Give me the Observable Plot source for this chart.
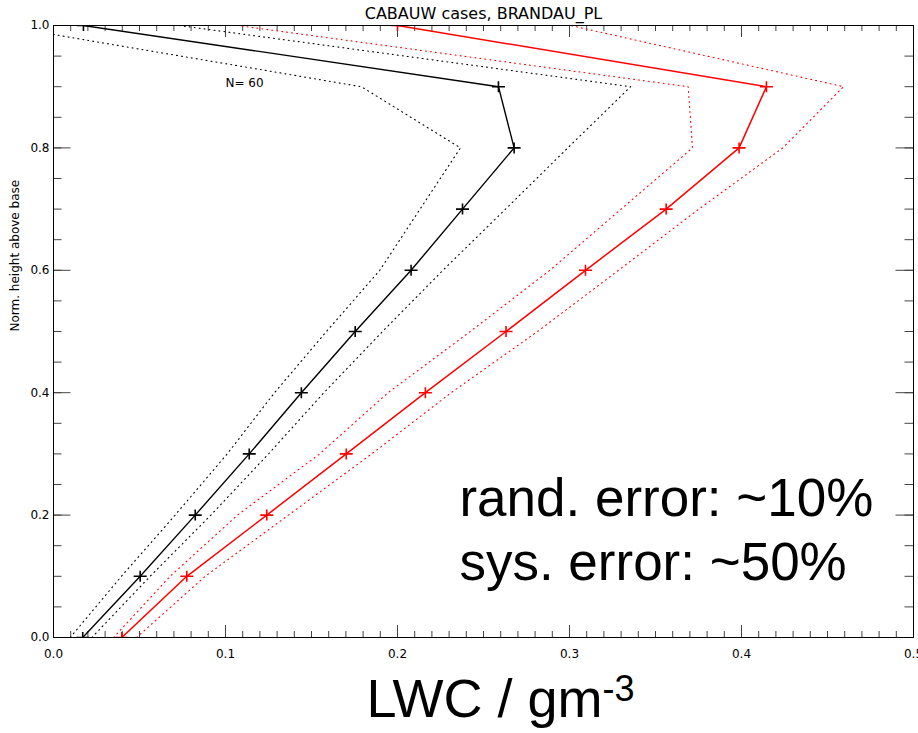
<!DOCTYPE html>
<html>
<head>
<meta charset="utf-8">
<script src="https://cdn.jsdelivr.net/npm/d3@7"></script>
<script src="https://cdn.jsdelivr.net/npm/@observablehq/plot@0.6"></script>
<style>
  html, body { margin: 0; padding: 0; background: #fff; }
  svg { display: block; }
</style>
</head>
<body>
<div id="chart"></div>
<script>
// Normalized height above cloud base
const heights = [0.0, 0.1, 0.2, 0.3, 0.4, 0.5, 0.6, 0.7, 0.8, 0.9, 1.0];

// Black profile (mean and dotted envelope)
const blackMean = [0.0170, 0.0504, 0.0824, 0.1138, 0.1441, 0.1754, 0.2079, 0.2378, 0.2678, 0.2587, 0.0174];
const blackLow  = [0.0097, 0.0395, 0.0707, 0.1010, 0.1285, 0.1587, 0.1897, 0.2131, 0.2366, 0.1790, -0.0310];
const blackHigh = [0.0223, 0.0562, 0.0915, 0.1250, 0.1572, 0.1913, 0.2264, 0.2628, 0.2990, 0.3355, 0.0730];

// Red profile (mean and dotted envelope)
const redMean = [0.0397, 0.0775, 0.1240, 0.1702, 0.2162, 0.2631, 0.3093, 0.3562, 0.3986, 0.4145, 0.2000];
const redLow  = [0.0349, 0.0678, 0.1070, 0.1547, 0.1945, 0.2423, 0.2886, 0.3300, 0.3715, 0.3690, 0.1070];
const redHigh = [0.0483, 0.0882, 0.1366, 0.1850, 0.2312, 0.2814, 0.3285, 0.3752, 0.4240, 0.4593, 0.3006];

// Axis ticks
const xMajorTicks = [0.0, 0.1, 0.2, 0.3, 0.4, 0.5];
const xMinorTicks = d3.range(0, 51).map(i => i / 100);
const yMajorTicks = [0.0, 0.2, 0.4, 0.6, 0.8, 1.0];
const yMinorTicks = d3.range(0, 21).map(i => i / 20);

const titleText = "CABAUW cases, BRANDAU_PL";
const yLabel = "Norm. height above base";
const xLabel = "LWC / gm";
const xLabelSup = "-3";
const nLabel = "N= 60";
const note1 = "rand. error: ~10%";
const note2 = "sys. error: ~50%";

const toRows = (vals) => heights.map((h, i) => ({h, v: vals[i]}));

const W = 918, H = 733;
const mL = 53, mR = 5, mT = 25, mB = 96;
const fw = W - mL - mR, fh = H - mT - mB;

const cross = {
  draw(ctx) {
    ctx.moveTo(-6.5, 0); ctx.lineTo(6.5, 0);
    ctx.moveTo(0, -5.5); ctx.lineTo(0, 5.5);
  }
};

const tickColor = "#444";
const bigFont = "Liberation Sans, Arial, sans-serif";

const chart = Plot.plot({
  width: W, height: H,
  marginLeft: mL, marginRight: mR, marginTop: mT, marginBottom: mB,
  style: {fontFamily: "DejaVu Sans, sans-serif", fontSize: "12px", background: "#fff", color: "#000"},
  x: {domain: [0, 0.5], ticks: xMajorTicks, tickFormat: d3.format(".1f"), tickSize: 0, tickPadding: 12, label: null},
  y: {domain: [0, 1], ticks: yMajorTicks, tickFormat: d3.format(".1f"), tickSize: 0, tickPadding: 4, label: null},
  marks: [
    // inward ticks, bottom & top
    Plot.tickX(xMinorTicks, {x: d => d, insetTop: fh - 6, stroke: tickColor}),
    Plot.tickX(xMajorTicks, {x: d => d, insetTop: fh - 12, stroke: tickColor}),
    Plot.tickX(xMinorTicks, {x: d => d, insetBottom: fh - 6, stroke: tickColor}),
    Plot.tickX(xMajorTicks, {x: d => d, insetBottom: fh - 12, stroke: tickColor}),
    // inward ticks, left & right
    Plot.tickY(yMinorTicks, {y: d => d, insetRight: fw - 8.5, stroke: tickColor}),
    Plot.tickY(yMajorTicks, {y: d => d, insetRight: fw - 17.5, stroke: tickColor}),
    Plot.tickY(yMinorTicks, {y: d => d, insetLeft: fw - 8.5, stroke: tickColor}),
    Plot.tickY(yMajorTicks, {y: d => d, insetLeft: fw - 17.5, stroke: tickColor}),

    // dotted envelopes
    Plot.line(toRows(blackLow),  {x: "v", y: "h", stroke: "#000", strokeWidth: 1.1, strokeDasharray: "1,4", clip: true}),
    Plot.line(toRows(blackHigh), {x: "v", y: "h", stroke: "#000", strokeWidth: 1.1, strokeDasharray: "1,4", clip: true}),
    Plot.line(toRows(redLow),    {x: "v", y: "h", stroke: "#ff0000", strokeWidth: 1.1, strokeDasharray: "1,4", clip: true}),
    Plot.line(toRows(redHigh),   {x: "v", y: "h", stroke: "#ff0000", strokeWidth: 1.1, strokeDasharray: "1,4", clip: true}),

    // mean profiles
    Plot.line(toRows(blackMean), {x: "v", y: "h", stroke: "#000", strokeWidth: 1.4, clip: true}),
    Plot.line(toRows(redMean),   {x: "v", y: "h", stroke: "#ff0000", strokeWidth: 1.5, clip: true}),
    Plot.dot(toRows(blackMean), {x: "v", y: "h", symbol: cross, fill: "none", stroke: "#000", strokeWidth: 1.6, clip: true}),
    Plot.dot(toRows(redMean),   {x: "v", y: "h", symbol: cross, fill: "none", stroke: "#ff0000", strokeWidth: 1.6, clip: true}),

    Plot.frame({stroke: "#000", strokeWidth: 1}),

    // texts
    Plot.text([titleText], {text: d => d, frameAnchor: "top", lineAnchor: "middle", dy: -12, fontSize: 16}),
    Plot.text([yLabel], {text: d => d, frameAnchor: "left", lineAnchor: "middle", dx: -38.5, rotate: -90, fontSize: 12}),
    Plot.text([{x: 0.1, y: 0.9, t: nLabel}], {x: "x", y: "y", text: "t", textAnchor: "start", lineAnchor: "middle", dy: -4, fontSize: 12}),
    Plot.text([{x: 0.236, y: 0.2255, t: note1}], {x: "x", y: "y", text: "t", textAnchor: "start", lineAnchor: "middle", fontSize: 53, fontFamily: bigFont}),
    Plot.text([{x: 0.236, y: 0.1209, t: note2}], {x: "x", y: "y", text: "t", textAnchor: "start", lineAnchor: "middle", fontSize: 53, fontFamily: bigFont}),
    Plot.text([xLabel], {text: d => d, frameAnchor: "bottom", lineAnchor: "middle", textAnchor: "start", dx: 366 - (mL + fw / 2), dy: 62, fontSize: 54, fontFamily: bigFont})
  ]
});

document.getElementById("chart").appendChild(chart);

// superscript on the x label
d3.select(chart).selectAll("text").filter(function () { return this.textContent === xLabel; })
  .append("tspan").attr("font-size", 36).attr("dy", -16).text(xLabelSup);
</script>
</body>
</html>
